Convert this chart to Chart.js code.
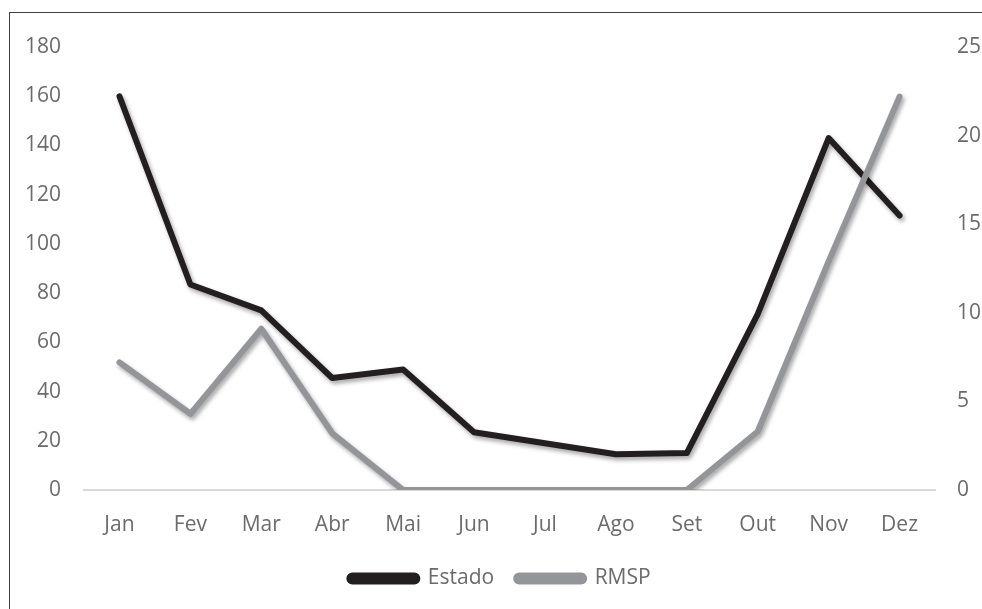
<!DOCTYPE html>
<html lang="pt">
<head>
    <meta charset="UTF-8">
    <title>Estado x RMSP</title>
    <script src="https://cdn.jsdelivr.net/npm/chart.js"></script>
    <style>
        html, body {
            margin: 0;
            padding: 0;
            background: #fff;
            overflow: hidden;
        }

        .frame {
            position: absolute;
            left: 9px;
            top: 12px;
            width: 1100px;
            height: 800px;
            border: 1px solid #404040;
        }

        .chart-box {
            position: absolute;
            left: 0;
            top: 0;
            width: 1000px;
            height: 609px;
        }
    </style>
</head>
<body>
    <div class="frame"></div>
    <div class="chart-box">
        <canvas id="chart" width="1000" height="609"></canvas>
    </div>

    <script>
        const months = ['Jan', 'Fev', 'Mar', 'Abr', 'Mai', 'Jun', 'Jul', 'Ago', 'Set', 'Out', 'Nov', 'Dez'];
        const estado = [160, 83.5, 73, 45.5, 49, 23.5, 19, 14.5, 15, 71.5, 143, 111.5];
        const rmsp = [7.2, 4.3, 9.1, 3.2, 0, 0, 0, 0, 0, 3.3, 12.9, 22.2];
        const leftTicks = [0, 20, 40, 60, 80, 100, 120, 140, 160, 180];
        const rightTicks = [0, 5, 10, 15, 20, 25];

        const labelColor = '#6b6b6b';
        const tickFont = { family: 'Open Sans', size: 21 };

        // soft drop shadow under the lines
        const shadowPlugin = {
            id: 'lineShadow',
            beforeDatasetDraw(chart) {
                const ctx = chart.ctx;
                ctx.save();
                ctx.shadowColor = 'rgba(0, 0, 0, 0.35)';
                ctx.shadowBlur = 4;
                ctx.shadowOffsetX = 2;
                ctx.shadowOffsetY = 3;
            },
            afterDatasetDraw(chart) {
                chart.ctx.restore();
            }
        };

        // small vertical fix for the legend row
        const legendNudge = {
            id: 'legendNudge',
            afterLayout(chart) {
                chart.legend.top -= 2;
                chart.legend.bottom -= 2;
            }
        };

        new Chart(document.getElementById('chart'), {
            type: 'line',
            data: {
                labels: months,
                datasets: [{
                    label: 'Estado',
                    data: estado,
                    yAxisID: 'y',
                    borderColor: '#231f20',
                    backgroundColor: '#231f20',
                    borderWidth: 6,
                    order: 2
                }, {
                    label: 'RMSP',
                    data: rmsp,
                    yAxisID: 'y1',
                    borderColor: '#939598',
                    backgroundColor: '#939598',
                    borderWidth: 6,
                    order: 1
                }]
            },
            options: {
                responsive: false,
                animation: false,
                devicePixelRatio: 1,
                layout: { padding: { top: 47, bottom: 8 } },
                elements: {
                    point: { radius: 0, hoverRadius: 0 },
                    line: { tension: 0, borderCapStyle: 'round', borderJoinStyle: 'round' }
                },
                plugins: {
                    tooltip: { enabled: false },
                    legend: {
                        position: 'bottom',
                        labels: {
                            color: labelColor,
                            font: tickFont,
                            boxWidth: 68,
                            boxHeight: 6,
                            useBorderRadius: true,
                            borderRadius: 3,
                            padding: 22,
                            sort: (a, b) => a.datasetIndex - b.datasetIndex
                        }
                    }
                },
                scales: {
                    x: {
                        offset: true,
                        afterFit: axis => { axis.height = 58; },
                        grid: { display: false, drawTicks: false },
                        border: { display: true, color: '#d9d9d9', width: 2 },
                        ticks: { color: labelColor, font: tickFont, padding: 22, maxRotation: 0 }
                    },
                    y: {
                        position: 'left',
                        min: 0,
                        max: 180,
                        afterBuildTicks: axis => { axis.ticks = leftTicks.map(v => ({ value: v })); },
                        afterFit: axis => { axis.width = 84; },
                        grid: { display: false, drawTicks: false },
                        border: { display: false },
                        ticks: { color: labelColor, font: tickFont, padding: 23 }
                    },
                    y1: {
                        position: 'right',
                        min: 0,
                        max: 25,
                        afterBuildTicks: axis => { axis.ticks = rightTicks.map(v => ({ value: v })); },
                        afterFit: axis => { axis.width = 65; },
                        grid: { display: false, drawTicks: false },
                        border: { display: false },
                        ticks: { color: labelColor, font: tickFont, padding: 22 }
                    }
                }
            },
            plugins: [shadowPlugin, legendNudge]
        });
    </script>
</body>
</html>
